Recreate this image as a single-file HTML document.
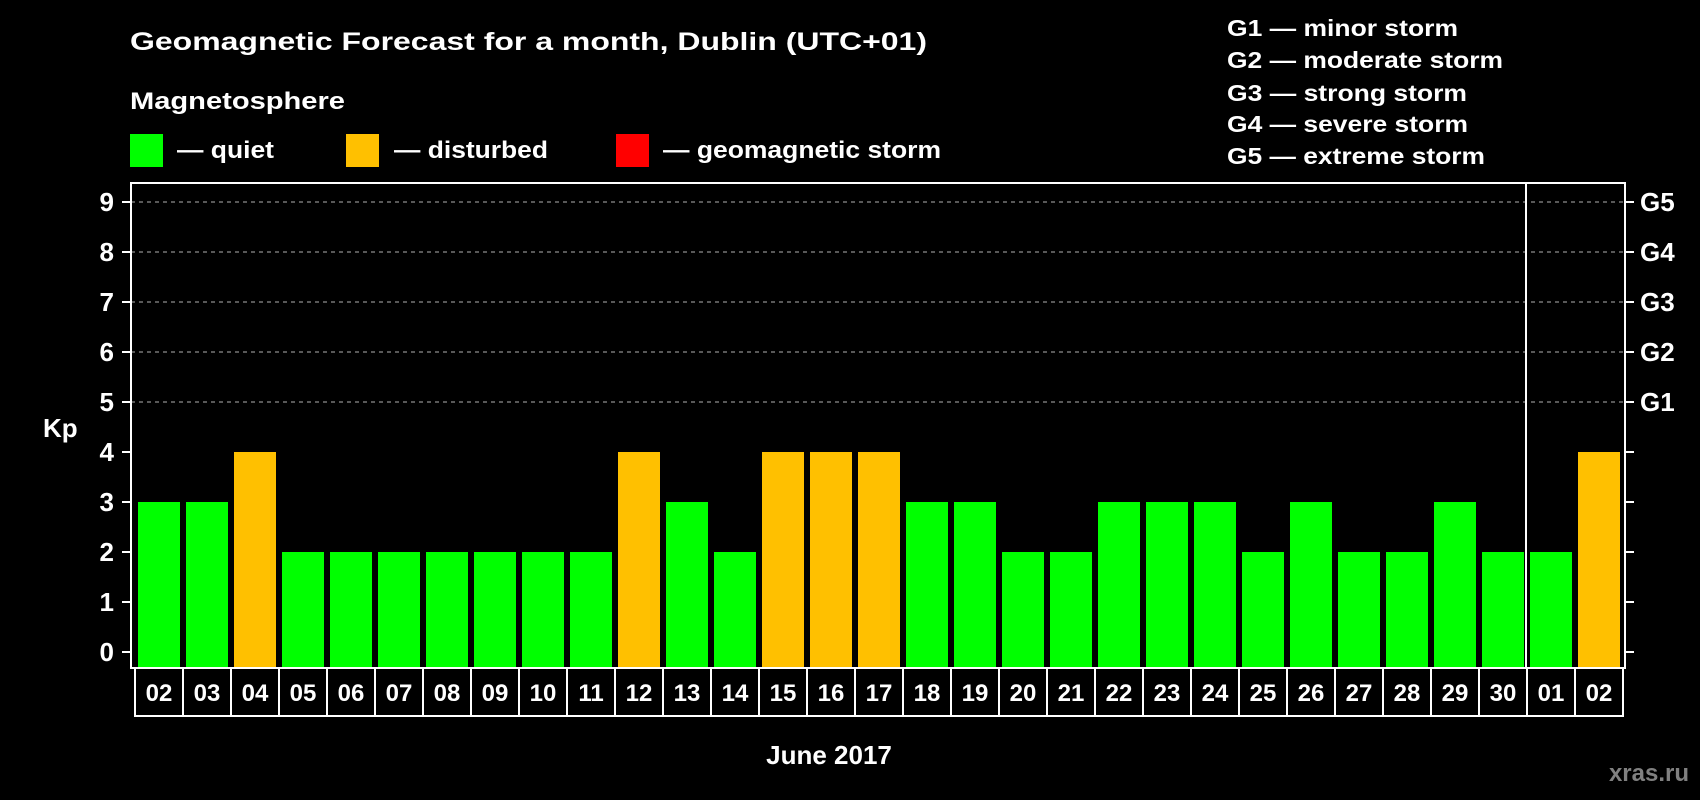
<!DOCTYPE html>
<html><head><meta charset="utf-8"><style>
html,body{margin:0;padding:0;background:#000;width:1700px;height:800px;overflow:hidden}
svg{display:block;font-family:"Liberation Sans",sans-serif;font-weight:bold}
</style></head><body>
<svg id="chart" width="1700" height="800" xmlns="http://www.w3.org/2000/svg">
<rect x="0" y="0" width="1700" height="800" fill="#000"/>
<text x="130" y="50" fill="#fff" font-size="25" textLength="797" lengthAdjust="spacingAndGlyphs">Geomagnetic Forecast for a month, Dublin (UTC+01)</text>
<text x="130" y="109" fill="#fff" font-size="24" textLength="215" lengthAdjust="spacingAndGlyphs">Magnetosphere</text>
<rect x="130" y="134" width="33" height="33" fill="#00ff00"/>
<text x="177" y="158" fill="#fff" font-size="24" textLength="97" lengthAdjust="spacingAndGlyphs">— quiet</text>
<rect x="346" y="134" width="33" height="33" fill="#ffc000"/>
<text x="394" y="158" fill="#fff" font-size="24" textLength="154" lengthAdjust="spacingAndGlyphs">— disturbed</text>
<rect x="616" y="134" width="33" height="33" fill="#ff0000"/>
<text x="663" y="158" fill="#fff" font-size="24" textLength="278" lengthAdjust="spacingAndGlyphs">— geomagnetic storm</text>
<g font-size="23" fill="#fff">
<text x="1227" y="36" textLength="231" lengthAdjust="spacingAndGlyphs">G1 — minor storm</text>
<text x="1227" y="68" textLength="276" lengthAdjust="spacingAndGlyphs">G2 — moderate storm</text>
<text x="1227" y="101" textLength="240" lengthAdjust="spacingAndGlyphs">G3 — strong storm</text>
<text x="1227" y="132" textLength="241" lengthAdjust="spacingAndGlyphs">G4 — severe storm</text>
<text x="1227" y="164" textLength="258" lengthAdjust="spacingAndGlyphs">G5 — extreme storm</text>
</g>
<g id="grid"></g>
<g id="bars"></g>
<g id="axes"></g>
<text x="43" y="437" fill="#fff" font-size="26">Kp</text>
<text x="829" y="764" fill="#fff" font-size="26" text-anchor="middle">June 2017</text>
<text x="1689" y="781" fill="#808080" font-size="24" text-anchor="end">xras.ru</text>
</svg>
<script>
const categories=["02","03","04","05","06","07","08","09","10","11","12","13","14","15","16","17","18","19","20","21","22","23","24","25","26","27","28","29","30","01","02"];
const kpValues=[3,3,4,2,2,2,2,2,2,2,4,3,2,4,4,4,3,3,2,2,3,3,3,2,3,2,2,3,2,2,4];
const yTicks=[0,1,2,3,4,5,6,7,8,9];
const gLabels=["G1","G2","G3","G4","G5"];
const gLevels=[5,6,7,8,9];
const NS="http://www.w3.org/2000/svg";
const L=131,R=1625,T=183,B=668,Y0=652,UNIT=50,X0=135,STEP=48;
const y=v=>Y0-v*UNIT;
const x=i=>X0+i*STEP;
function mk(tag,attrs,parent){const e=document.createElementNS(NS,tag);for(const k in attrs)e.setAttribute(k,attrs[k]);parent.appendChild(e);return e;}
const grid=document.getElementById('grid'),bars=document.getElementById('bars'),axes=document.getElementById('axes');
gLevels.forEach(v=>{const l=mk('line',{x1:L,x2:R,y1:y(v),y2:y(v),stroke:'#8c8c8c','stroke-width':1.2,'stroke-dasharray':'4,4'},grid);

});
kpValues.forEach((v,i)=>{const r=mk('rect',{x:x(i)+3,y:y(v),width:42,height:B-y(v),fill:v>=5?'#ff0000':(v>=4?'#ffc000':'#00ff00')},bars);

});
let f=mk('rect',{x:L,y:T,width:R-L,height:B-T,fill:'none',stroke:'#fff','stroke-width':2},axes);


let d=mk('line',{x1:x(29)-1,x2:x(29)-1,y1:T,y2:B,stroke:'#fff','stroke-width':2},axes);


yTicks.forEach(v=>{
const t=mk('line',{x1:122,x2:L,y1:y(v),y2:y(v),stroke:'#fff','stroke-width':2},axes);


const t2=mk('line',{x1:R,x2:1634,y1:y(v),y2:y(v),stroke:'#fff','stroke-width':2},axes);


const tx=mk('text',{x:114,y:y(v)+9,fill:'#fff','font-size':26,'text-anchor':'end'},axes);tx.textContent=v;

});
gLevels.forEach((v,i)=>{const tx=mk('text',{x:1640,y:y(v)+9,fill:'#fff','font-size':26},axes);tx.textContent=gLabels[i];

});
categories.forEach((c,i)=>{
const b=mk('rect',{x:x(i),y:B,width:STEP,height:48,fill:'none',stroke:'#fff','stroke-width':2},axes);


const tx=mk('text',{x:x(i)+STEP/2,y:701,fill:'#fff','font-size':24,'text-anchor':'middle'},axes);tx.textContent=c;

});
</script>
</body></html>
